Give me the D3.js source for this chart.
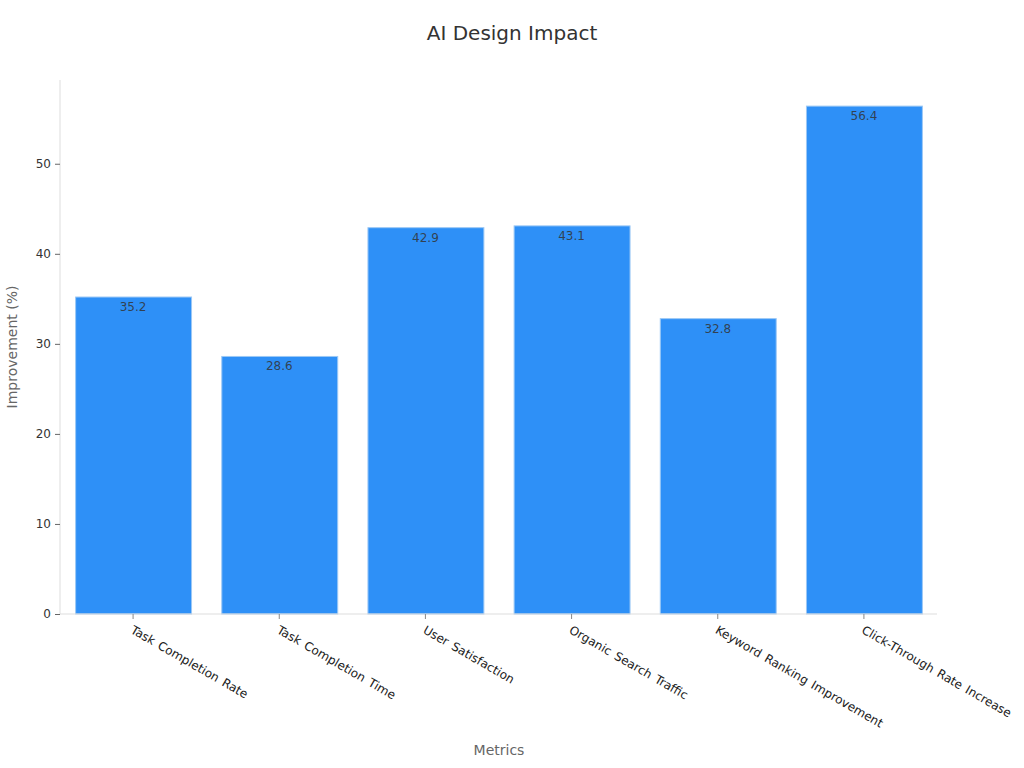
<!DOCTYPE html>
<html><head><meta charset="utf-8">
<script src="https://cdn.jsdelivr.net/npm/d3@7"></script>
<style>body{margin:0;background:#fff;font-family:"DejaVu Sans",sans-serif;}</style>
</head><body><svg id="c" width="1024" height="768"></svg>
<script>
const categories = ["Task Completion Rate","Task Completion Time","User Satisfaction","Organic Search Traffic","Keyword Ranking Improvement","Click-Through Rate Increase"];
const values = [35.2, 28.6, 42.9, 43.1, 32.8, 56.4];
const yTicks = [0,10,20,30,40,50];

const svg = d3.select("#c");
const m = {l:60, r:937, t:80, b:614};
const x = d3.scaleBand().domain(categories).range([m.l, m.r]).paddingInner(0.2).paddingOuter(0.1);
const y = d3.scaleLinear().domain([0, 59.3]).range([m.b, m.t]);

svg.append("text").attr("x",512).attr("y",40).attr("text-anchor","middle")
  .attr("font-size",20).attr("fill","#333").text("AI Design Impact");

// bars
svg.selectAll("rect.bar").data(values).enter().append("rect")
  .attr("x",(d,i)=>x(categories[i])+1).attr("y",d=>y(d))
  .attr("width",x.bandwidth()-1).attr("height",d=>m.b-y(d))
  .attr("fill","#2E90F7").attr("stroke","#9cc8f5").attr("stroke-width",1);

svg.selectAll("text.val").data(values).enter().append("text")
  .attr("x",(d,i)=>x(categories[i])+x.bandwidth()/2).attr("y",d=>y(d)+14)
  .attr("text-anchor","middle").attr("font-size",12).attr("fill","#333")
  .attr("fill-opacity",0.85).text(d=>d.toFixed(1));

// y axis
const ya = svg.append("g").attr("transform",`translate(${m.l},0)`)
  .call(d3.axisLeft(y).tickValues(yTicks).tickSize(5).tickPadding(4));
ya.select(".domain").attr("stroke","#ddd").attr("d",`M0,${m.t}V${m.b}`);
ya.selectAll(".tick line").attr("stroke","#666");
ya.selectAll(".tick text").attr("font-size",12).attr("fill","#333").attr("font-family","DejaVu Sans");

// x axis
const xa = svg.append("g").attr("transform",`translate(0,${m.b})`)
  .call(d3.axisBottom(x).tickSize(5).tickPadding(6));
xa.select(".domain").attr("stroke","#ddd").attr("d",`M${m.l},0H${m.r}`);
xa.selectAll(".tick line").attr("stroke","#888");
xa.selectAll(".tick text").attr("font-size",12).attr("fill","#222").attr("font-family","DejaVu Sans")
  .attr("text-anchor","start").attr("x",0).attr("y",0).attr("dy","0.71em")
  .attr("word-spacing","1.5px")
  .attr("transform","translate(1,11) rotate(30)");

svg.append("text").attr("transform",`translate(17,347) rotate(-90)`).attr("text-anchor","middle")
  .attr("font-size",14).attr("fill","#666").text("Improvement (%)");
svg.append("text").attr("x",499).attr("y",755).attr("text-anchor","middle")
  .attr("font-size",14).attr("fill","#666").text("Metrics");
</script></body></html>
